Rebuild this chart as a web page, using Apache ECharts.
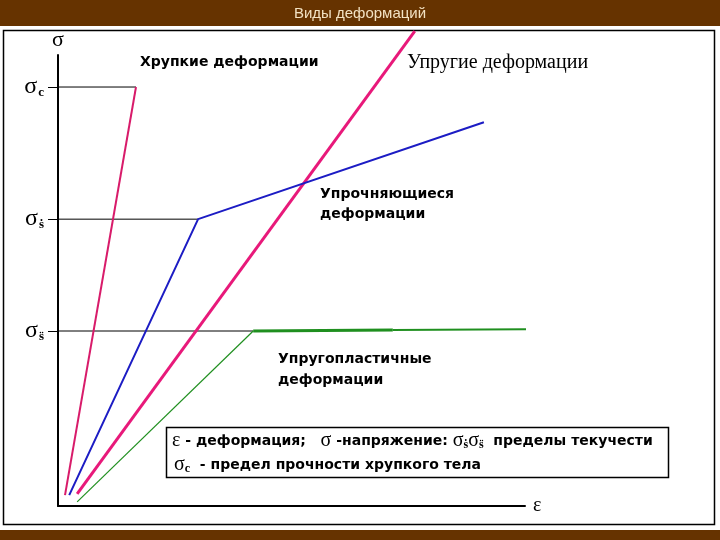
<!DOCTYPE html>
<html>
<head>
<meta charset="utf-8">
<script src="https://cdn.jsdelivr.net/npm/echarts@6/dist/echarts.min.js"></script>
<style>html,body{margin:0;padding:0;background:#fff}#chart{width:720px;height:540px}</style>
</head>
<body>
<div id="chart"></div>
<script>
// ε / σ в условных единицах (ось 0..10)
var brittle = [[0.15, 0.24], [1.67, 9.29]];
var elastic = [[0.41, 0.27], [7.64, 10.53]];
var hardening = [[0.24, 0.24], [3.0, 6.36], [9.12, 8.51]];
var plasticRise = [[0.41, 0.09], [4.18, 3.88]];
var plasticFlat1 = [[4.18, 3.88], [7.17, 3.90]];
var plasticFlat2 = [[7.17, 3.90], [10.15, 3.92]];

// уровни σc, σs', σs'' и где к ним подходят линии
var levels = [9.29, 6.36, 3.88];
var levelEnds = [1.67, 3.0, 4.18];
var levelLabels = ['{sig|σ}{sub|c}', '{sig|σ}{sub|ṡ}', '{sig|σ}{sub|s̈}'];

var myChart = echarts.init(document.getElementById('chart'));

function levelLine(i) {
    return {
        type: 'line', data: [[0, levels[i]], [levelEnds[i], levels[i]]],
        symbol: 'none', silent: true, clip: false, z: 1,
        lineStyle: { color: '#000', width: 1 }
    };
}
function curve(data, color, width) {
    return {
        type: 'line', data: data, symbol: 'none', silent: true, clip: false,
        lineStyle: { color: color, width: width }
    };
}

var sans = '"DejaVu Sans", Verdana, sans-serif';
var serif = '"Liberation Serif", "Times New Roman", serif';

option = {
    backgroundColor: '#fff',
    animation: false,
    grid: { left: 58, top: 55, right: 195, bottom: 34 },
    xAxis: {
        type: 'value', min: 0, max: 10,
        name: 'ε', nameLocation: 'end', nameGap: 8,
        nameTextStyle: { fontFamily: serif, fontSize: 20, color: '#000' },
        axisLine: { show: true, lineStyle: { color: '#000', width: 2 } },
        axisTick: { show: false }, axisLabel: { show: false }, splitLine: { show: false }
    },
    yAxis: {
        type: 'value', min: 0, max: 10,
        name: 'σ', nameLocation: 'end', nameGap: 4,
        nameTextStyle: { fontFamily: serif, fontSize: 22, color: '#000', align: 'center' },
        axisLine: { show: true, lineStyle: { color: '#000', width: 2 } },
        axisTick: { show: true, customValues: levels, length: 10, lineStyle: { color: '#000', width: 1 } },
        axisLabel: {
            show: true, customValues: levels, margin: 14,
            formatter: function (v) {
                var best = 0;
                for (var i = 0; i < levels.length; i++) {
                    if (Math.abs(levels[i] - v) < Math.abs(levels[best] - v)) best = i;
                }
                return levelLabels[best];
            },
            rich: {
                sig: { fontFamily: serif, fontSize: 24, color: '#000' },
                sub: { fontFamily: serif, fontSize: 13, fontWeight: 'bold', color: '#000', verticalAlign: 'bottom', padding: [8, 0, 0, 1] }
            }
        },
        splitLine: { show: false }
    },
    series: [
        levelLine(0), levelLine(1), levelLine(2),
        curve(brittle, '#d81b6a', 2),
        curve(elastic, '#e8197a', 3),
        curve(hardening, '#1c1cc4', 2),
        curve(plasticRise, '#1f8f1f', 1.2),
        curve(plasticFlat1, '#1f8f1f', 3),
        curve(plasticFlat2, '#1f8f1f', 2)
    ],
    graphic: [
        { type: 'rect', shape: { x: 0, y: 0, width: 720, height: 26 }, style: { fill: '#663300' }, z: 0 },
        { type: 'rect', shape: { x: 0, y: 530, width: 720, height: 10 }, style: { fill: '#663300' }, z: 0 },
        { type: 'rect', shape: { x: 3.5, y: 30.5, width: 711, height: 494 }, style: { fill: 'none', stroke: '#000', lineWidth: 1.5 }, z: 0 },
        { type: 'text', x: 360, y: 14, style: { text: 'Виды деформаций', font: '15px "Liberation Sans", Arial, sans-serif', fill: '#f3e2c2', align: 'center', verticalAlign: 'middle' } },
        { type: 'text', x: 140, y: 62, style: { text: 'Хрупкие деформации', font: 'bold 14px ' + sans, fill: '#000', verticalAlign: 'middle' } },
        { type: 'text', x: 407, y: 63, style: { text: 'Упругие деформации', font: '20px ' + serif, fill: '#000', verticalAlign: 'middle' } },
        { type: 'text', x: 320, y: 204, style: { text: 'Упрочняющиеся\nдеформации', font: 'bold 14px ' + sans, lineHeight: 20, fill: '#000', verticalAlign: 'middle' } },
        { type: 'text', x: 278, y: 370, style: { text: 'Упругопластичные\nдеформации', font: 'bold 14px ' + sans, lineHeight: 21, fill: '#000', verticalAlign: 'middle' } },
        { type: 'rect', shape: { x: 166.5, y: 427.5, width: 502, height: 50 }, style: { fill: '#fff', stroke: '#000', lineWidth: 1.5 }, z: 5 },
        {
            type: 'text', x: 172, y: 441, z: 6,
            style: {
                text: '{g|ε}{b| - деформация;   }{g|σ}{b| -напряжение: }{g|σ}{u|ṡ}{g|σ}{u|s̈}{b|  пределы текучести}',
                verticalAlign: 'middle',
                rich: {
                    g: { fontFamily: serif, fontSize: 20, color: '#000' },
                    b: { fontFamily: sans, fontSize: 14, fontWeight: 'bold', color: '#000' },
                    u: { fontFamily: serif, fontSize: 12, fontWeight: 'bold', color: '#000', verticalAlign: 'bottom', padding: [7, 0, 0, 0] }
                }
            }
        },
        {
            type: 'text', x: 174, y: 465, z: 6,
            style: {
                text: '{g|σ}{u|c}{b|  - предел прочности хрупкого тела}',
                verticalAlign: 'middle',
                rich: {
                    g: { fontFamily: serif, fontSize: 20, color: '#000' },
                    b: { fontFamily: sans, fontSize: 14, fontWeight: 'bold', color: '#000' },
                    u: { fontFamily: serif, fontSize: 12, fontWeight: 'bold', color: '#000', verticalAlign: 'bottom', padding: [7, 0, 0, 0] }
                }
            }
        }
    ]
};
myChart.setOption(option);
</script>
</body>
</html>
